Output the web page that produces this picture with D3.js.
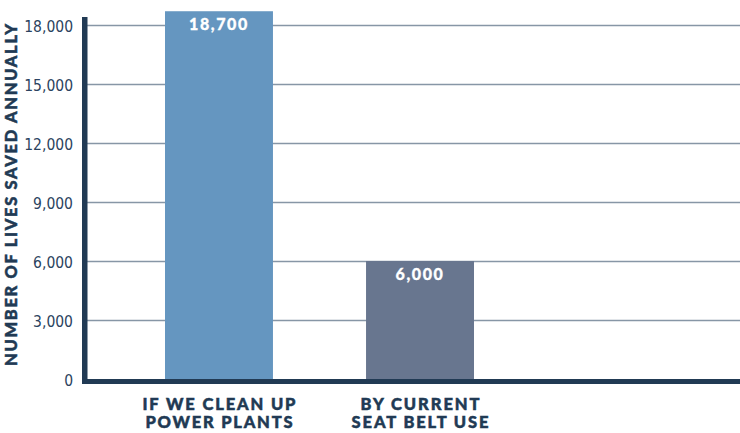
<!DOCTYPE html>
<html>
<head>
<meta charset="utf-8">
<script src="https://cdn.jsdelivr.net/npm/d3@7"></script>
<style>
  html, body { margin: 0; padding: 0; background: #ffffff; }
  svg { display: block; }
  .tick-label { font-family: "Liberation Sans Narrow", "DejaVu Sans Condensed", "Arial Narrow", sans-serif; font-size: 15.5px; fill: #2b4360; }
  .cat-label, .axis-title, .value-label { font-family: Lato, "Open Sans", sans-serif; font-weight: 900; }
</style>
</head>
<body>
<svg id="chart" width="740" height="433"></svg>
<script>
// Lives saved per year
const categories = ["IF WE CLEAN UP\nPOWER PLANTS", "BY CURRENT\nSEAT BELT USE"];
const values = [18700, 6000];
const valueLabels = ["18,700", "6,000"];
const tickValues = [0, 3000, 6000, 9000, 12000, 15000, 18000];
const tickLabels = ["0", "3,000", "6,000", "9,000", "12,000", "15,000", "18,000"];
const barColors = ["#6596c0", "#68768f"];
const yTitle = "NUMBER OF LIVES SAVED ANNUALLY";

const W = 740, H = 433;
const plot = { left: 87, right: 740, top: 25, bottom: 379 };
const navy = "#213a54";

const svg = d3.select("#chart");

const x = d3.scaleBand()
  .domain(categories)
  .range([plot.left, 552])
  .paddingInner(0.463)
  .paddingOuter(0.388);

const y = d3.scaleLinear()
  .domain([0, 18000])
  .range([plot.bottom, plot.top]);

// Horizontal gridlines
const grid = svg.append("g")
  .attr("transform", `translate(${plot.left},0)`)
  .call(d3.axisLeft(y)
    .tickValues(tickValues.filter(v => v > 0))
    .tickSize(-(plot.right - plot.left))
    .tickFormat(""));
grid.select(".domain").remove();
grid.selectAll(".tick line")
  .attr("stroke", "#8796a6")
  .attr("stroke-width", 1.6);

// Tick labels
const yAxis = svg.append("g")
  .attr("transform", `translate(${plot.left - 14},0)`)
  .call(d3.axisLeft(y)
    .tickValues(tickValues)
    .tickSize(0)
    .tickPadding(0)
    .tickFormat((d, i) => tickLabels[i]));
yAxis.select(".domain").remove();
yAxis.selectAll(".tick text")
  .attr("class", "tick-label")
  .attr("font-family", null)
  .attr("font-size", null)
  .attr("fill", null)
  .attr("dy", "0.42em")
  .attr("text-anchor", "end");

// Bars
svg.append("g").selectAll("rect")
  .data(values)
  .join("rect")
  .attr("x", (d, i) => x(categories[i]))
  .attr("width", x.bandwidth())
  .attr("y", d => y(d))
  .attr("height", d => y(0) - y(d))
  .attr("fill", (d, i) => barColors[i]);

// Value labels inside the bars
svg.append("g").selectAll("text")
  .data(values)
  .join("text")
  .attr("class", "value-label")
  .attr("x", (d, i) => x(categories[i]) + x.bandwidth() / 2)
  .attr("y", d => y(d) + 19)
  .attr("text-anchor", "middle")
  .attr("fill", "#ffffff")
  .attr("stroke", "#ffffff")
  .attr("stroke-width", 0.3)
  .attr("font-size", 16)
  .attr("letter-spacing", 1.6)
  .text((d, i) => valueLabels[i]);

// Axis lines
svg.append("rect")
  .attr("x", 82).attr("y", 17)
  .attr("width", 5.5).attr("height", 384 - 17)
  .attr("fill", navy);
svg.append("rect")
  .attr("x", 82).attr("y", plot.bottom)
  .attr("width", plot.right - 82).attr("height", 5)
  .attr("fill", navy);

// Category labels (two lines each)
const lineWidths = [[153, 147], [119, 137]];
const cat = svg.append("g").selectAll("text")
  .data(categories)
  .join("text")
  .attr("class", "cat-label")
  .attr("fill", navy)
  .attr("stroke", navy)
  .attr("stroke-width", 0.5)
  .attr("font-size", 16.5)
  .attr("text-anchor", "middle");
cat.each(function(d, i) {
  const cx = x(d) + x.bandwidth() / 2;
  d.split("\n").forEach((line, j) => {
    d3.select(this).append("tspan")
      .attr("x", cx)
      .attr("y", 410 + j * 18.3)
      .attr("textLength", lineWidths[i][j])
      .attr("lengthAdjust", "spacing")
      .text(line);
  });
});

// Y axis title
svg.append("text")
  .attr("class", "axis-title")
  .attr("transform", `translate(16.5,${(24 + 366) / 2}) rotate(-90)`)
  .attr("text-anchor", "middle")
  .attr("fill", navy)
  .attr("stroke", navy)
  .attr("stroke-width", 0.5)
  .attr("font-size", 16.5)
  .attr("textLength", 342)
  .attr("lengthAdjust", "spacing")
  .text(yTitle);
</script>
</body>
</html>
